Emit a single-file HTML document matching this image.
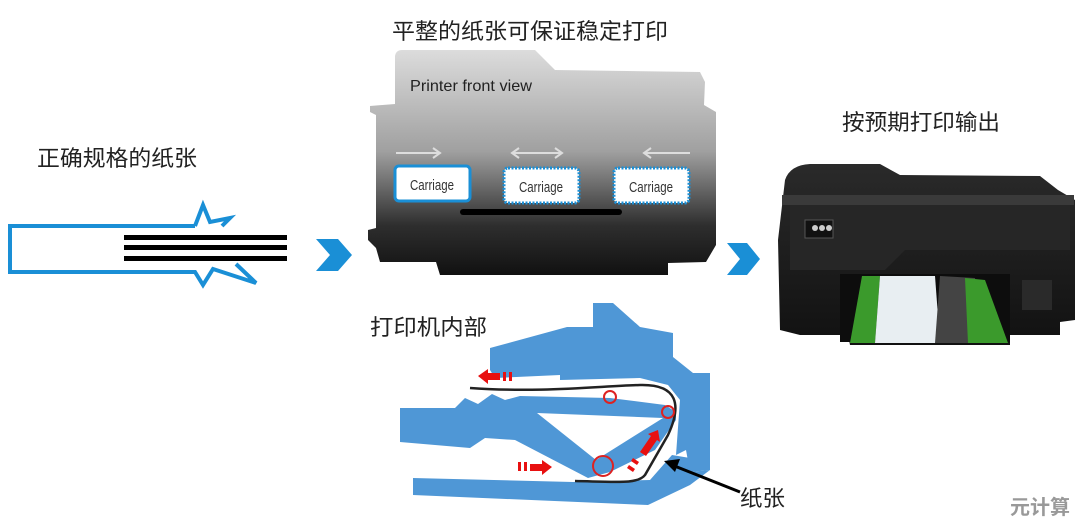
<!DOCTYPE html>
<html><head><meta charset="utf-8"><style>
html,body{margin:0;padding:0;background:#fff;width:1080px;height:525px;overflow:hidden}
svg{display:block}
text{font-family:"Liberation Sans","Noto Sans CJK SC",sans-serif}
</style></head><body>
<svg width="1080" height="525" viewBox="0 0 1080 525">
<defs>
<linearGradient id="g1" x1="0" y1="0" x2="0" y2="1">
<stop offset="0" stop-color="#dcdcdc"/><stop offset="0.45" stop-color="#a0a0a0"/><stop offset="0.78" stop-color="#2e2e2e"/><stop offset="1" stop-color="#111"/>
</linearGradient>
<linearGradient id="g2" x1="0" y1="0" x2="0" y2="1">
<stop offset="0" stop-color="#2a2a2a"/><stop offset="1" stop-color="#111"/>
</linearGradient>
</defs>
<!-- titles -->
<text x="392" y="39" font-size="22" fill="#222" textLength="276" lengthAdjust="spacingAndGlyphs">平整的纸张可保证稳定打印</text>
<text x="37" y="166" font-size="22" fill="#222" textLength="160" lengthAdjust="spacingAndGlyphs">正确规格的纸张</text>
<text x="842" y="130" font-size="22" fill="#222" textLength="158" lengthAdjust="spacingAndGlyphs">按预期打印输出</text>
<text x="370" y="335" font-size="22" fill="#222" textLength="117" lengthAdjust="spacingAndGlyphs">打印机内部</text>
<text x="740" y="506" font-size="22" fill="#222" textLength="45" lengthAdjust="spacingAndGlyphs">纸张</text>
<text x="1010" y="514" font-size="20" font-weight="bold" fill="#999">元计算</text>

<!-- left paper -->
<path d="M195,226 L10,226 L10,272 L195,272 L203,285 L213,269 L256,283 L236,264 M195,226 L203,205 L210,222 L230,218 L222,226" fill="none" stroke="#1a8fd6" stroke-width="4" stroke-linejoin="miter"/>
<rect x="124" y="235" width="163" height="5" fill="#000"/>
<rect x="124" y="245" width="163" height="5" fill="#000"/>
<rect x="124" y="256" width="163" height="5" fill="#000"/>
<!-- chevrons -->
<polygon points="316,239 338,239 352,255 338,271 316,271 330,255" fill="#1a8fd6"/>
<polygon points="727,243 747,243 760,259 747,275 727,275 740,259" fill="#1a8fd6"/>

<!-- front view -->
<path d="M395,56 Q396,50 402,50 L535,50 L555,70 L700,72 L705,82 L704,105 L716,112 L716,245 L706,262 L668,263 L668,275 L440,275 L436,262 L380,262 L376,248 L368,240 L368,230 L376,228 L376,115 L370,112 L370,106 L395,104 Z" fill="url(#g1)"/>
<text x="410" y="91" font-size="16" fill="#222" textLength="122" lengthAdjust="spacingAndGlyphs">Printer front view</text>
<g stroke="#ddd" stroke-width="2" fill="none">
<path d="M396,153 L440,153 M433,148 L440,153 L433,158"/>
<path d="M512,153 L562,153 M519,148 L512,153 L519,158 M555,148 L562,153 L555,158"/>
<path d="M644,153 L690,153 M651,148 L644,153 L651,158"/>
</g>
<rect x="395" y="166" width="75" height="35" rx="4" fill="#fff" stroke="#1a8fd6" stroke-width="3"/>
<rect x="504" y="168" width="75" height="35" rx="4" fill="#fff" stroke="#1a8fd6" stroke-width="3" stroke-dasharray="2,1.5"/>
<rect x="614" y="168" width="75" height="35" rx="4" fill="#fff" stroke="#1a8fd6" stroke-width="3" stroke-dasharray="2,1.5"/>
<text x="410" y="190" font-size="15" fill="#333" textLength="44" lengthAdjust="spacingAndGlyphs">Carriage</text>
<text x="519" y="192" font-size="15" fill="#333" textLength="44" lengthAdjust="spacingAndGlyphs">Carriage</text>
<text x="629" y="192" font-size="15" fill="#333" textLength="44" lengthAdjust="spacingAndGlyphs">Carriage</text>
<rect x="460" y="209" width="162" height="6" rx="3" fill="#000"/>

<!-- printer photo -->
<path d="M785,180 Q790,165 810,164 L880,164 L900,175 L1040,176 L1058,190 L1075,200 L1075,320 L1060,322 L1060,335 L1010,335 L1010,345 L850,345 L848,335 L800,335 L780,330 L778,240 Z" fill="url(#g2)"/>
<rect x="782" y="195" width="292" height="10" fill="#3a3a3a"/>
<path d="M790,205 L1070,205 L1070,250 L905,250 L885,270 L790,270 Z" fill="#262626"/>
<rect x="805" y="220" width="28" height="18" fill="#111" stroke="#555"/>
<circle cx="815" cy="228" r="3" fill="#ccc"/><circle cx="822" cy="228" r="3" fill="#ccc"/><circle cx="829" cy="228" r="3" fill="#ccc"/>
<rect x="840" y="274" width="170" height="68" fill="#0d0d0d"/>
<polygon points="850,343 862,276 880,276 875,343" fill="#3b9a2c"/>
<polygon points="875,343 880,276 935,276 940,343" fill="#e8eef2"/>
<polygon points="935,343 940,276 975,278 985,343" fill="#444"/>
<polygon points="968,343 965,278 985,280 1008,343" fill="#3b9a2c"/>
<rect x="1022" y="280" width="30" height="30" fill="#2a2a2a"/>

<!-- interior blue -->
<g fill="#4f97d6">
<polygon points="490,348 567,327 593,327 593,303 613,303 640,327 673,333 673,357 693,373 710,373 710,470 690,472 686,450 676,455 680,400 668,385 640,378 560,380 560,375 495,378 490,370"/>
<polygon points="400,408 455,408 465,398 478,404 492,394 505,400 520,396 610,398 665,405 676,412 676,420 655,450 610,472 588,478 515,440 485,438 470,448 400,442"/>
<polygon points="413,478 573,482 650,480 672,455 690,458 690,472 710,470 690,485 648,505 413,495"/>
</g>
<polygon points="537,413 663,418 596,460" fill="#fff"/>
<path d="M470,388 C540,393 600,386 640,385 C678,384 682,405 668,435 L645,475 C638,484 620,482 575,481" fill="none" stroke="#222" stroke-width="2.5"/>
<g fill="none" stroke="#d22" stroke-width="2">
<circle cx="610" cy="397" r="6"/><circle cx="668" cy="412" r="6"/><circle cx="603" cy="466" r="10"/>
</g>
<g fill="#e81010">
<polygon points="478,376 488,369 488,373 500,373 500,380 488,380 488,384"/>
<rect x="503" y="372" width="3" height="9"/><rect x="509" y="372" width="3" height="9"/>
<polygon points="552,467 542,460 542,464 530,464 530,471 542,471 542,475"/>
<rect x="518" y="462" width="3" height="9"/><rect x="524" y="462" width="3" height="9"/>
<polygon points="658,430 648,434 651,436 640,452 646,456 657,440 660,442"/>
<polygon points="633,458 639,462 637,465 631,461"/><polygon points="629,465 635,469 633,472 627,468"/>
</g>
<!-- black arrow -->
<line x1="740" y1="492" x2="672" y2="465" stroke="#000" stroke-width="3"/>
<polygon points="664,461 680,459 675,472" fill="#000"/>
</svg>
</body></html>
